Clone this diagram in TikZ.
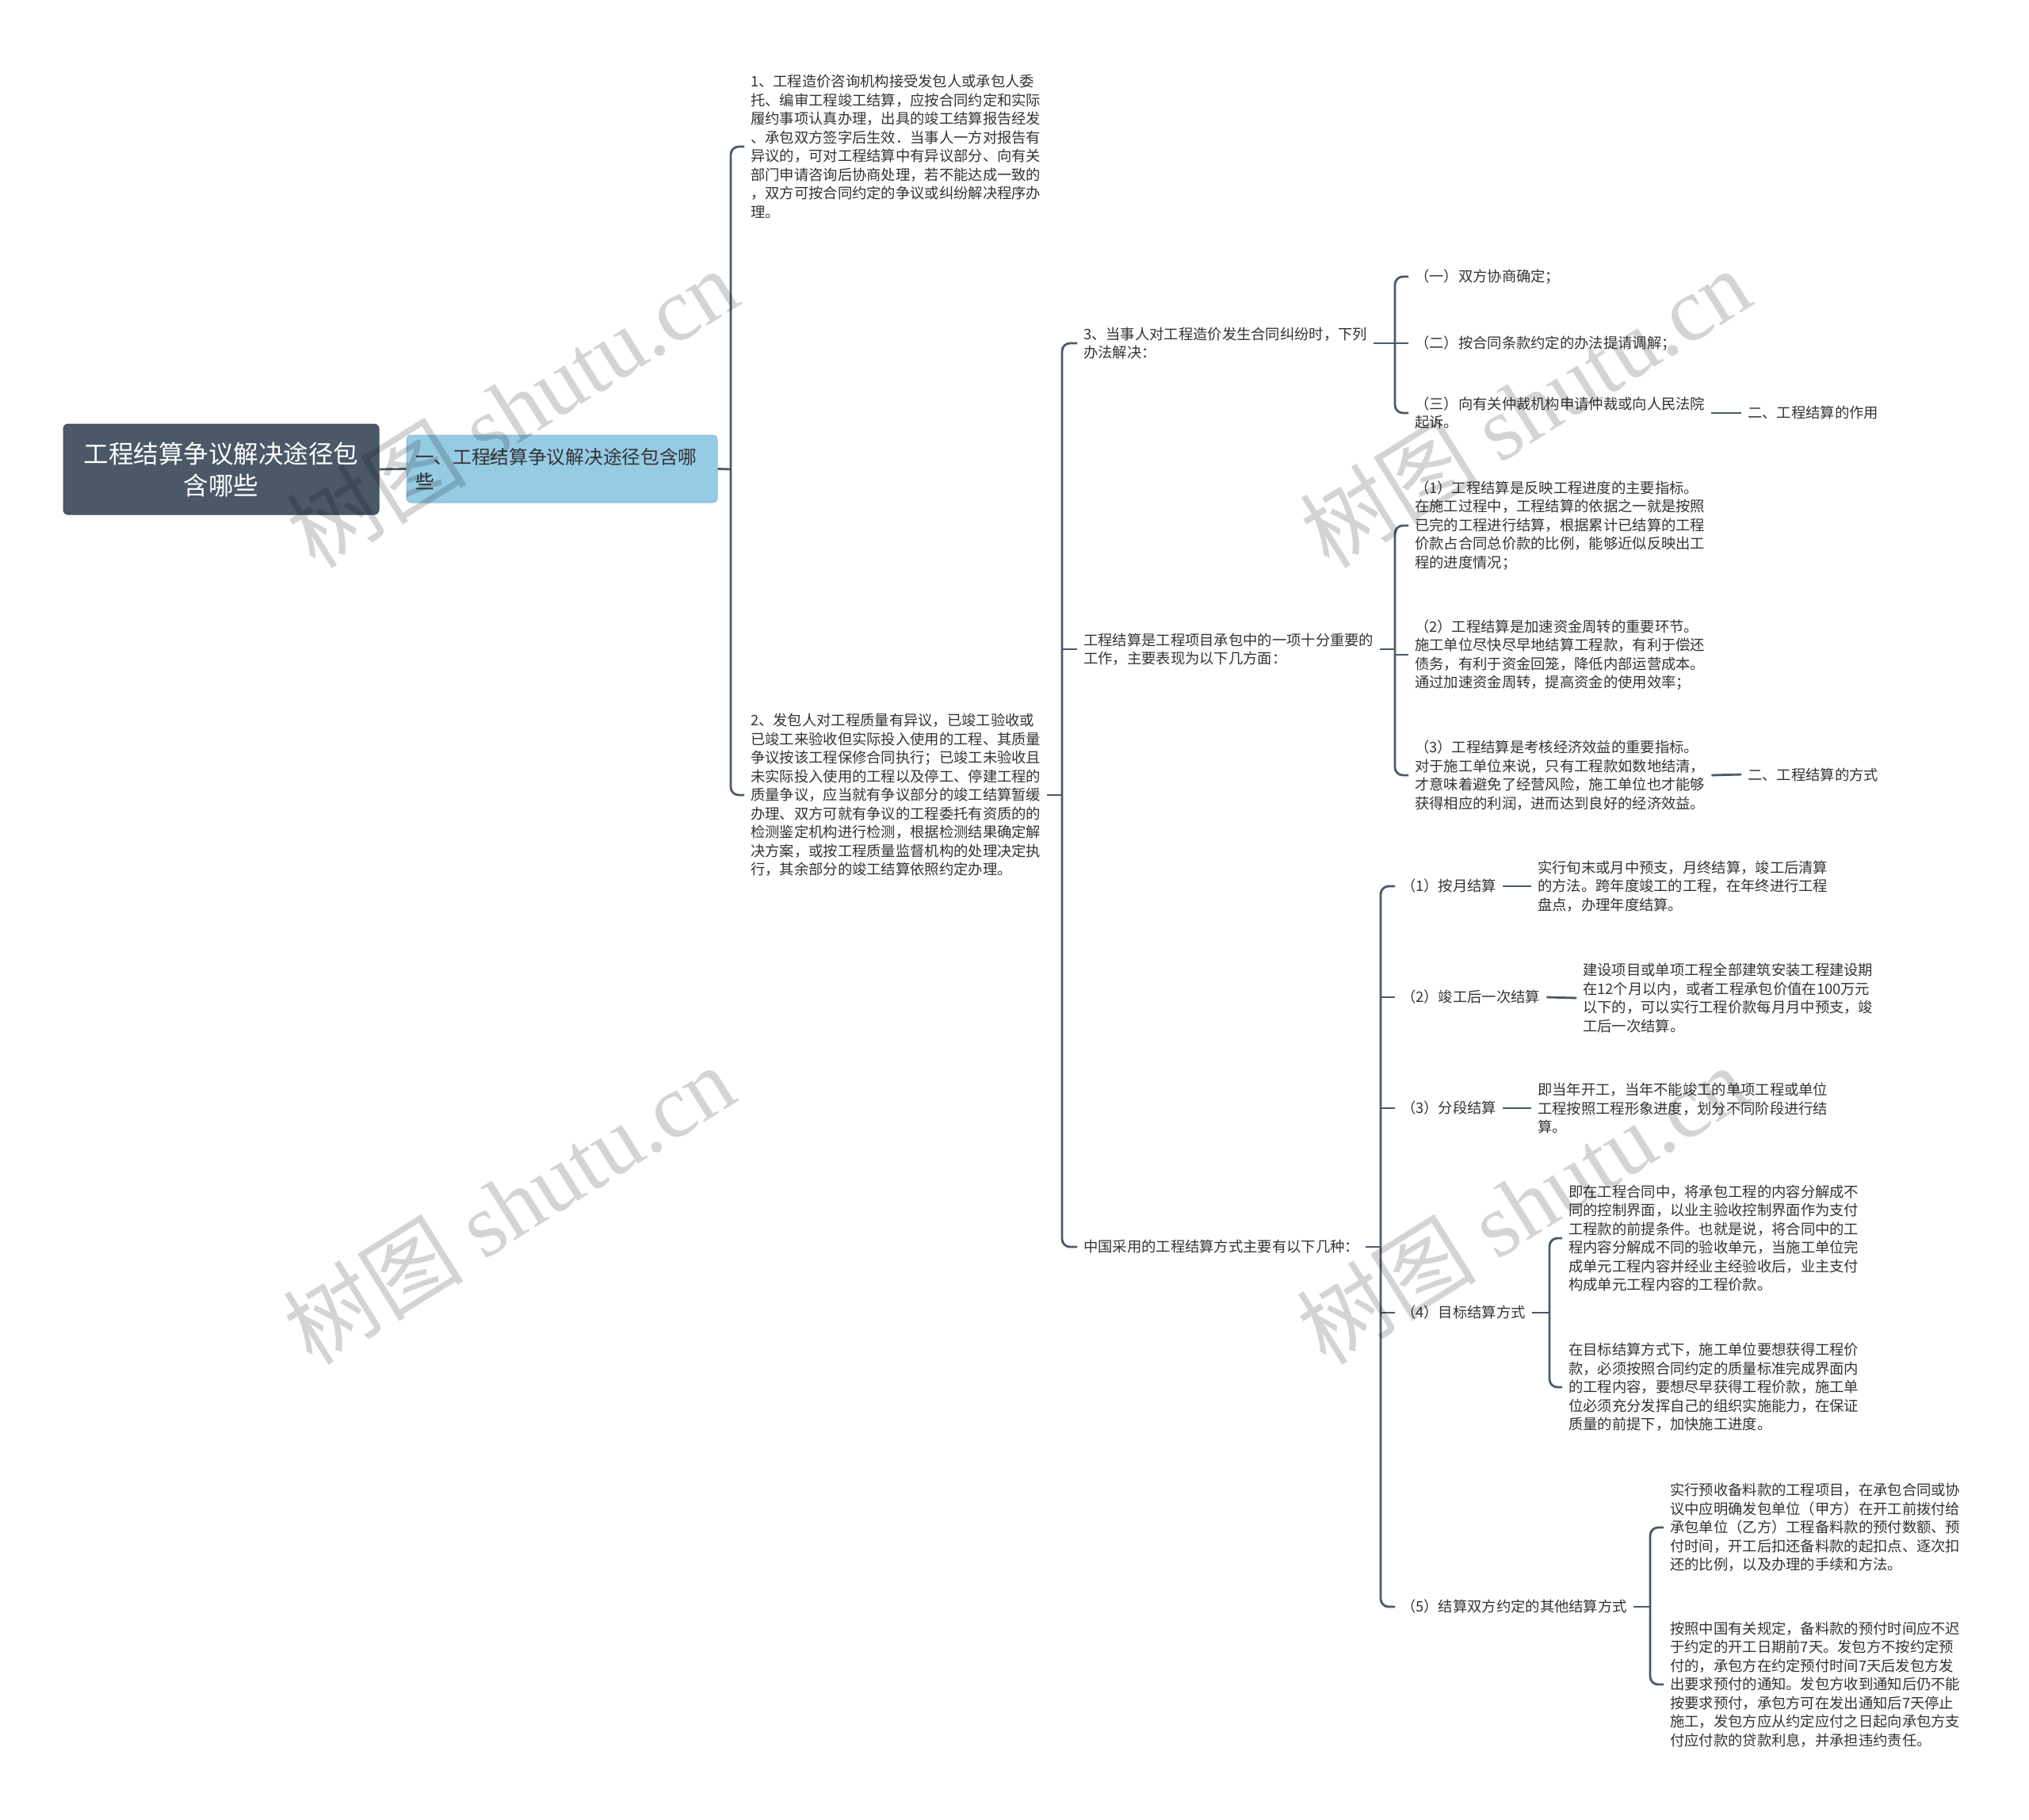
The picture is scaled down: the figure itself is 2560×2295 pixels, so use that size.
\documentclass[tikz,border=0pt]{standalone}
\usepackage{fontspec}
\setmainfont{Noto Sans CJK SC}
\newfontfamily\wmserif{Liberation Serif}
\definecolor{rootC}{HTML}{4A5868}
\definecolor{lineC}{HTML}{4B5A69}
\definecolor{lOneC}{HTML}{96CBE4}
\definecolor{lOneB}{HTML}{86BDD8}
\definecolor{textC}{HTML}{333333}
\begin{document}
\begin{tikzpicture}[x=1pt,y=-1pt,
  conn/.style={draw=lineC, line width=2.8pt, rounded corners=10pt},
  txt/.style={anchor=west, align=left, inner xsep=8pt, inner ysep=2pt, text=textC,
    font=\fontsize{18.3}{23.5}\selectfont},
  rootbox/.style={fill=rootC, draw=rootC!85!black, line width=1pt, rounded corners=6pt,
    minimum width=398pt, minimum height=114pt, text=white, align=center,
    font=\fontsize{31.5}{40}\selectfont},
  lonebox/.style={fill=lOneC, draw=lOneB, line width=1pt, rounded corners=6pt,
    text width=370pt, inner xsep=11pt, minimum height=85pt, align=left, text=textC,
    font=\fontsize{23.7}{31}\selectfont},
  wm/.style={text=black, text opacity=0.17, font=\fontsize{114}{114}\selectfont, inner sep=0pt}
]
\useasboundingbox (0,0) rectangle (2560,2295);
\fill[white] (0,0) rectangle (2560,2295);

% root and level 1
\node[rootbox] (root) at (279,592) {工程结算争议解决途径包\\含哪些};
\node[lonebox] (l1) at (709,591.5) {一、工程结算争议解决途径包含哪\\些};

% level 2
\node[txt] (t1) at (939,185) {1、工程造价咨询机构接受发包人或承包人委\\托、编审工程竣工结算，应按合同约定和实际\\履约事项认真办理，出具的竣工结算报告经发\\、承包双方签字后生效．当事人一方对报告有\\异议的，可对工程结算中有异议部分、向有关\\部门申请咨询后协商处理，若不能达成一致的\\，双方可按合同约定的争议或纠纷解决程序办\\理。};
\node[txt] (t2) at (939,1003) {2、发包人对工程质量有异议，已竣工验收或\\已竣工来验收但实际投入使用的工程、其质量\\争议按该工程保修合同执行；已竣工未验收且\\未实际投入使用的工程以及停工、停建工程的\\质量争议，应当就有争议部分的竣工结算暂缓\\办理、双方可就有争议的工程委托有资质的的\\检测鉴定机构进行检测，根据检测结果确定解\\决方案，或按工程质量监督机构的处理决定执\\行，其余部分的竣工结算依照约定办理。};

% level 3
\node[txt] (c3) at (1359,433) {3、当事人对工程造价发生合同纠纷时，下列\\办法解决：};
\node[txt] (cw) at (1359,819) {工程结算是工程项目承包中的一项十分重要的\\工作，主要表现为以下几方面：};
\node[txt] (cz) at (1359,1573) {中国采用的工程结算方式主要有以下几种：};

% children of c3
\node[txt] (d1) at (1777,349) {（一）双方协商确定；};
\node[txt] (d2) at (1777,433) {（二）按合同条款约定的办法提请调解；};
\node[txt] (d3) at (1777,521) {（三）向有关仲裁机构申请仲裁或向人民法院\\起诉。};
\node[txt] (e1) at (2197,521) {二、工程结算的作用};

% children of cw
\node[txt] (w1) at (1777,663) {（1）工程结算是反映工程进度的主要指标。\\在施工过程中，工程结算的依据之一就是按照\\已完的工程进行结算，根据累计已结算的工程\\价款占合同总价款的比例，能够近似反映出工\\程的进度情况；};
\node[txt] (w2) at (1777,826) {（2）工程结算是加速资金周转的重要环节。\\施工单位尽快尽早地结算工程款，有利于偿还\\债务，有利于资金回笼，降低内部运营成本。\\通过加速资金周转，提高资金的使用效率；};
\node[txt] (w3) at (1777,978) {（3）工程结算是考核经济效益的重要指标。\\对于施工单位来说，只有工程款如数地结清，\\才意味着避免了经营风险，施工单位也才能够\\获得相应的利润，进而达到良好的经济效益。};
\node[txt] (e2) at (2197,977) {二、工程结算的方式};

% children of cz
\node[txt] (z1) at (1760,1118) {（1）按月结算};
\node[txt] (z1a) at (1932,1118) {实行旬末或月中预支，月终结算，竣工后清算\\的方法。跨年度竣工的工程，在年终进行工程\\盘点，办理年度结算。};
\node[txt] (z2) at (1760,1258) {（2）竣工后一次结算};
\node[txt] (z2a) at (1989,1259) {建设项目或单项工程全部建筑安装工程建设期\\在12个月以内，或者工程承包价值在100万元\\以下的，可以实行工程价款每月月中预支，竣\\工后一次结算。};
\node[txt] (z3) at (1760,1398) {（3）分段结算};
\node[txt] (z3a) at (1932,1398) {即当年开工，当年不能竣工的单项工程或单位\\工程按照工程形象进度，划分不同阶段进行结\\算。};
\node[txt] (z4) at (1760,1656) {（4）目标结算方式};
\node[txt] (z4a) at (1971,1562) {即在工程合同中，将承包工程的内容分解成不\\同的控制界面，以业主验收控制界面作为支付\\工程款的前提条件。也就是说，将合同中的工\\程内容分解成不同的验收单元，当施工单位完\\成单元工程内容并经业主经验收后，业主支付\\构成单元工程内容的工程价款。};
\node[txt] (z4b) at (1971,1750) {在目标结算方式下，施工单位要想获得工程价\\款，必须按照合同约定的质量标准完成界面内\\的工程内容，要想尽早获得工程价款，施工单\\位必须充分发挥自己的组织实施能力，在保证\\质量的前提下，加快施工进度。};
\node[txt] (z5) at (1760,2027) {（5）结算双方约定的其他结算方式};
\node[txt] (z5a) at (2099,1927) {实行预收备料款的工程项目，在承包合同或协\\议中应明确发包单位（甲方）在开工前拨付给\\承包单位（乙方）工程备料款的预付数额、预\\付时间，开工后扣还备料款的起扣点、逐次扣\\还的比例，以及办理的手续和方法。};
\node[txt] (z5b) at (2099,2125) {按照中国有关规定，备料款的预付时间应不迟\\于约定的开工日期前7天。发包方不按约定预\\付的，承包方在约定预付时间7天后发包方发\\出要求预付的通知。发包方收到通知后仍不能\\按要求预付，承包方可在发出通知后7天停止\\施工，发包方应从约定应付之日起向承包方支\\付应付款的贷款利息，并承担违约责任。};

% junctions
\coordinate (jA) at (922,592);
\coordinate (jB) at (1340,1003);
\coordinate (jC) at (1760,433);
\coordinate (jW) at (1760,819);
\coordinate (jZ) at (1742,1573);
\coordinate (jF) at (1955,1656);
\coordinate (jG) at (2082,2027);

% connectors
\draw[conn] (root.east) -- (l1.west);
\draw[conn] (l1.east) -- (jA);
\draw[conn] (jA) |- (t1.west);
\draw[conn] (jA) |- (t2.west);

\draw[conn] (t2.east) -- (jB);
\draw[conn] (jB) |- (c3.west);
\draw[conn] (jB) |- (cz.west);
\draw[conn] (cw.west -| jB) -- (cw.west);

\draw[conn] (c3.east) -- (jC);
\draw[conn] (jC) |- (d1.west);
\draw[conn] (jC) |- (d3.west);
\draw[conn] (d2.west -| jC) -- (d2.west);
\draw[conn] (d3.east) -- (e1.west);

\draw[conn] (cw.east) -- (jW);
\draw[conn] (jW) |- (w1.west);
\draw[conn] (jW) |- (w3.west);
\draw[conn] (w2.west -| jW) -- (w2.west);
\draw[conn] (w3.east) -- (e2.west);

\draw[conn] (cz.east) -- (jZ);
\draw[conn] (jZ) |- (z1.west);
\draw[conn] (jZ) |- (z5.west);
\draw[conn] (z2.west -| jZ) -- (z2.west);
\draw[conn] (z3.west -| jZ) -- (z3.west);
\draw[conn] (z4.west -| jZ) -- (z4.west);

\draw[conn] (z1.east) -- (z1a.west);
\draw[conn] (z2.east) -- (z2a.west);
\draw[conn] (z3.east) -- (z3a.west);

\draw[conn] (z4.east) -- (jF);
\draw[conn] (jF) |- (z4a.west);
\draw[conn] (jF) |- (z4b.west);

\draw[conn] (z5.east) -- (jG);
\draw[conn] (jG) |- (z5a.west);
\draw[conn] (jG) |- (z5b.west);

% watermarks
\node[wm, rotate=32] (wm1) at (646,514) {树图 {\wmserif shutu.cn}};
\node[wm, rotate=32] (wm2) at (642,1519) {树图 {\wmserif shutu.cn}};
\node[wm, rotate=32] (wm3) at (1924,514) {树图 {\wmserif shutu.cn}};
\node[wm, rotate=32] (wm4) at (1920,1519) {树图 {\wmserif shutu.cn}};
\end{tikzpicture}
\end{document}
